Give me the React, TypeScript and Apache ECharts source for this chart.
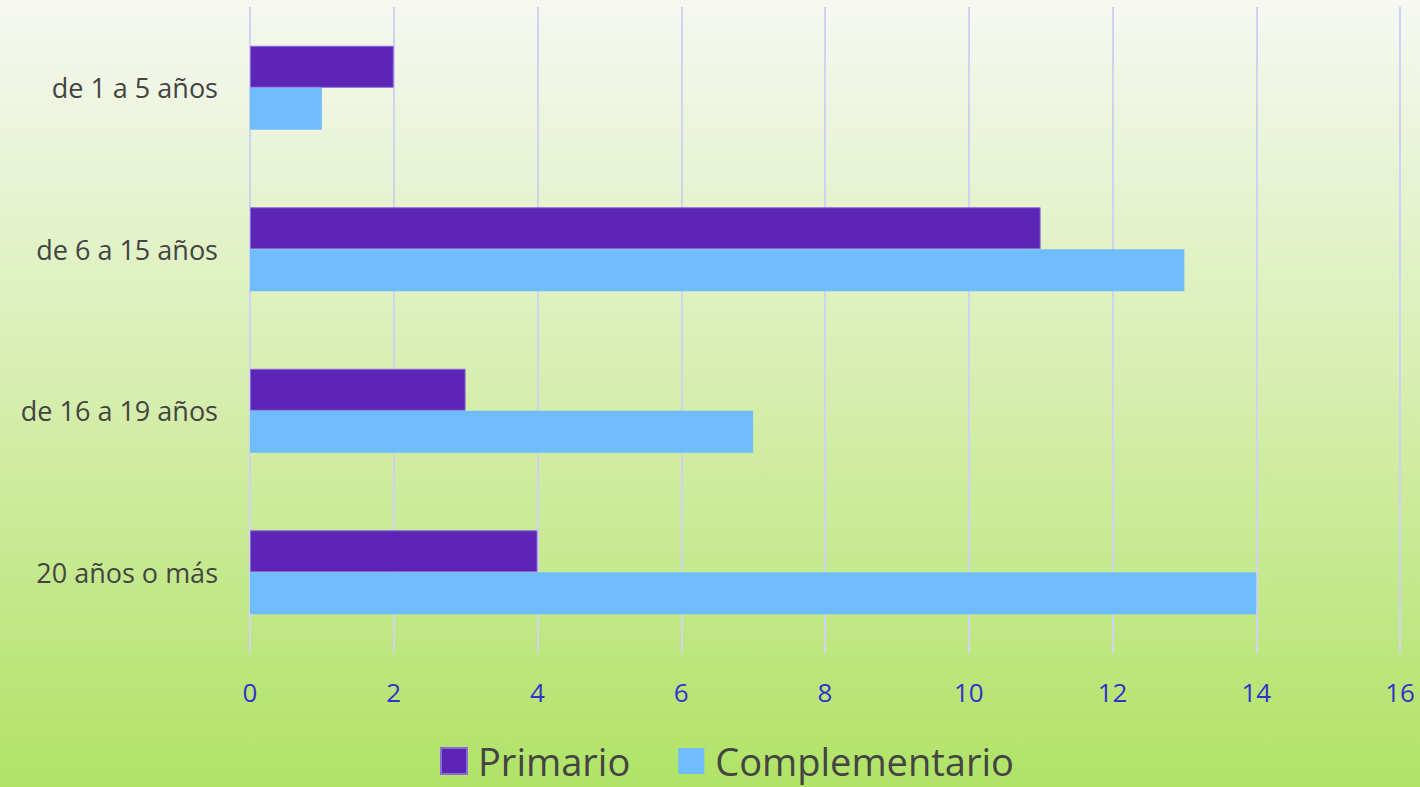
import React, { useEffect, useRef } from "react";
import * as echarts from "echarts";

const categories = ["de 1 a 5 años", "de 6 a 15 años", "de 16 a 19 años", "20 años o más"];
const primario = [2, 11, 3, 4];
const complementario = [1, 13, 7, 14];
const seriesNames = ["Primario", "Complementario"];

export default function App() {
  const ref = useRef<HTMLDivElement>(null);
  useEffect(() => {
    if (!ref.current) return;
    const chart = echarts.init(ref.current, null, { renderer: "svg" });
    const font = "Open Sans";
    chart.setOption({
      animation: false,
      backgroundColor: new echarts.graphic.LinearGradient(0, 0, 0, 1, [
        { offset: 0, color: "#f6f8f2" },
        { offset: 0.5, color: "#d6eeae" },
        { offset: 1, color: "#b0e366" },
      ]),
      textStyle: { fontFamily: font },
      grid: { left: 250, right: 20, top: 7, bottom: 134 },
      legend: {
        data: seriesNames,
        bottom: 2,
        left: 435,
        itemWidth: 26,
        itemHeight: 26,
        itemGap: 48,
        icon: "rect",
        textStyle: { fontSize: 38, color: "#444", fontFamily: font, padding: [0, 0, 0, 6] },
      },
      xAxis: {
        type: "value",
        min: 0,
        max: 16,
        interval: 2,
        axisLine: { show: false },
        axisTick: { show: false },
        splitLine: { show: true, lineStyle: { color: "#cfd2f2", width: 2 } },
        axisLabel: { color: "#3333cc", fontSize: 26, margin: 26, fontFamily: font },
      },
      yAxis: {
        type: "category",
        data: categories,
        inverse: true,
        axisLine: { show: false },
        axisTick: { show: false },
        axisLabel: { color: "#444", fontSize: 27, margin: 32, fontFamily: font },
      },
      series: [
        {
          name: seriesNames[0],
          type: "bar",
          data: primario,
          barGap: "0%",
          barCategoryGap: "48%",
          itemStyle: { color: "#5c25b6", borderColor: "#8d6ad9", borderWidth: 1 },
        },
        {
          name: seriesNames[1],
          type: "bar",
          data: complementario,
          barGap: "0%",
          barCategoryGap: "48%",
          itemStyle: { color: "#70bdfe" },
        },
      ],
    });
    return () => chart.dispose();
  }, []);
  return (
    <div
      ref={ref}
      style={{ position: "absolute", left: 0, top: 0, width: 1420, height: 787 }}
    />
  );
}
